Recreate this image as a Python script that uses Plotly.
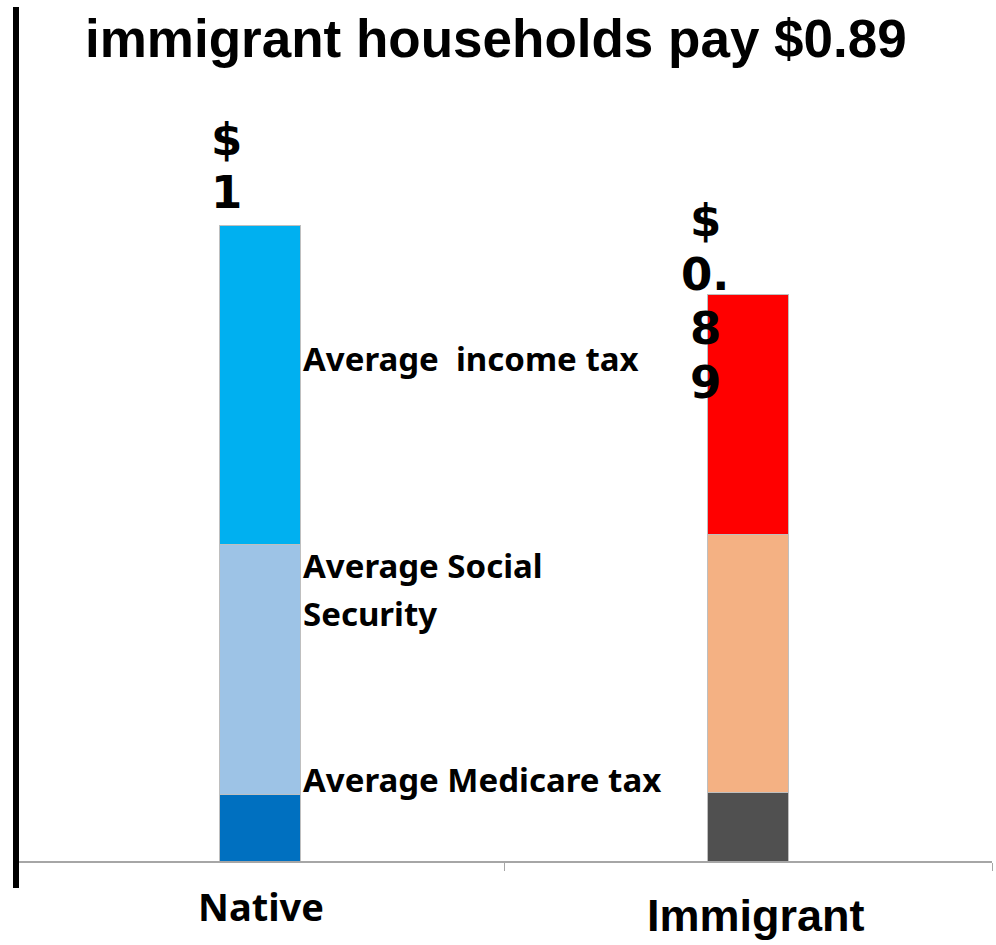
import plotly.graph_objects as go

# ---- data -------------------------------------------------------------
groups = ["Native", "Immigrant"]
components = ["Average Medicare tax", "Average Social Security", "Average  income tax"]
medicare = [0.105, 0.107]
social_security = [0.393, 0.407]
income_tax = [0.502, 0.376]
totals = [round(a + b + c, 2) for a, b, c in zip(medicare, social_security, income_tax)]

native_colors = ["#0070C0", "#9DC3E6", "#00B0F0"]
immigrant_colors = ["#505050", "#F4B183", "#FF0000"]

# ---- geometry ---------------------------------------------------------
W, H = 996, 945
ML, MR, MT, MB = 16, 4, 0, 84
plot_h = H - MT - MB
px_per_unit = 636.0
y_top = plot_h / px_per_unit


def y_of(px):
    """Data value at a given page row (for label placement)."""
    return (H - MB - px) / px_per_unit


fig = go.Figure()

for i, (name, vals) in enumerate(zip(components, [medicare, social_security, income_tax])):
    fig.add_trace(go.Bar(
        x=groups,
        y=vals,
        name=name,
        width=0.164,
        marker=dict(color=[native_colors[i], immigrant_colors[i]],
                    line=dict(color="#BFBFBF", width=1)),
        hoverinfo="x+y",
        showlegend=False,
    ))

annotations = []

# title
annotations.append(dict(
    text=f"<b>immigrant households pay ${totals[1]:.2f}</b>",
    xref="paper", yref="paper",
    x=(496 - ML) / (W - ML - MR), y=1 - 39 / plot_h,
    xanchor="center", yanchor="middle", showarrow=False,
    font=dict(family="Liberation Sans, Arial, sans-serif", size=53, color="#000000"),
))

# stacked dollar labels, one character per line
label_font = dict(family="DejaVu Sans, sans-serif", size=45, color="#000000")
label_setup = {"Native": (-34, 139, 53), "Immigrant": (-43, 220, 54)}
for g, tot in zip(groups, totals):
    txt = f"${tot:g}"
    dx, first_px, pitch = label_setup[g]
    chars = [txt[0], txt[1:3]] + list(txt[3:]) if "." in txt else list(txt)
    for k, ch in enumerate(chars):
        annotations.append(dict(
            text=f"<b>{ch}</b>", x=g, y=y_of(first_px + k * pitch),
            xref="x", yref="y", xanchor="center", yanchor="middle",
            xshift=dx, showarrow=False, font=label_font,
        ))

# segment descriptions beside the Native bar
seg_font = dict(family="Noto Sans, sans-serif", size=33, color="#000000")
seg_lines = [
    (["Average\u00a0 income tax"], 358),
    (["Average Social", "Security"], 565),
    (["Average Medicare tax"], 779),
]
for lines, first_px in seg_lines:
    for k, line in enumerate(lines):
        annotations.append(dict(
            text=f"<b>{line}</b>", x=groups[0], y=y_of(first_px + k * 48),
            xref="x", yref="y", xanchor="left", yanchor="middle",
            xshift=41, showarrow=False, font=seg_font,
        ))

# category labels
cat_fonts = {
    "Native": (dict(family="Noto Sans, sans-serif", size=38, color="#000000"), 1, 906),
    "Immigrant": (dict(family="Liberation Sans, Arial, sans-serif", size=45, color="#000000"), 8, 916),
}
for g in groups:
    f, dx, cy = cat_fonts[g]
    annotations.append(dict(
        text=f"<b>{g}</b>", x=g, y=-(cy - (H - MB)) / plot_h,
        xref="x", yref="paper", xanchor="center", yanchor="middle",
        xshift=dx, showarrow=False, font=f,
    ))

fig.update_layout(
    width=W, height=H,
    margin=dict(l=ML, r=MR, t=MT, b=MB, pad=0),
    barmode="stack",
    paper_bgcolor="#FFFFFF",
    plot_bgcolor="#FFFFFF",
    annotations=annotations,
    xaxis=dict(
        type="category", range=[-0.5, 1.5],
        showline=True, linecolor="#A6A6A6", linewidth=2,
        ticks="outside", tickson="boundaries", ticklen=8,
        tickcolor="#A6A6A6", tickwidth=1,
        showticklabels=False, showgrid=False, zeroline=False,
    ),
    yaxis=dict(range=[0, y_top], visible=False, showgrid=False, zeroline=False),
    shapes=[dict(
        type="line", xref="paper", yref="paper",
        x0=0, x1=0, y0=-(888 - (H - MB)) / plot_h, y1=1 - 7 / plot_h,
        line=dict(color="#000000", width=6),
    )],
)

fig.write_html("out.html")
